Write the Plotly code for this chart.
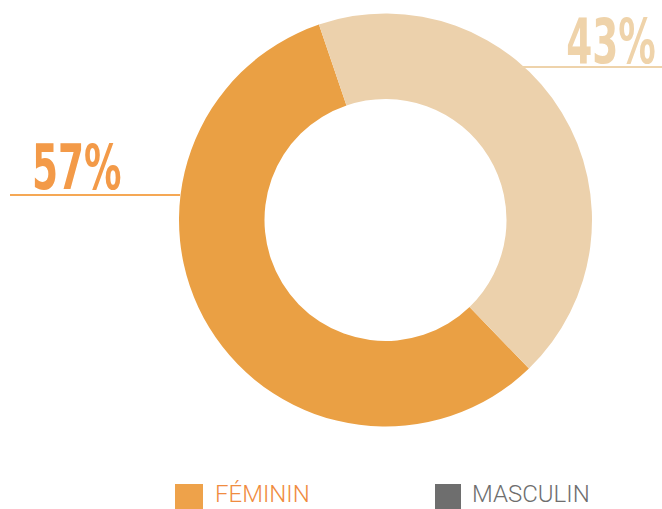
import plotly.graph_objects as go

categories = ["FÉMININ", "MASCULIN"]
values = [57, 43]
labels_txt = ["57%", "43%"]
slice_colors = ["#EAA044", "#ECD1AC"]
legend_colors = ["#EEA24A", "#6E6E6E"]
legend_text_colors = ["#F08C40", "#6E6E6E"]

W, H = 662, 509
cx, cy, r = 385.5, 220, 206.5

fig = go.Figure()
fig.add_trace(go.Pie(
    labels=categories, values=values, hole=0.586, sort=False,
    direction="counterclockwise", rotation=136,
    marker=dict(colors=slice_colors, line=dict(width=0)),
    textinfo="none", hoverinfo="label+percent", showlegend=False,
    domain=dict(x=[(cx - r) / W, (cx + r) / W], y=[(H - cy - r) / H, (H - cy + r) / H]),
))

# percentage labels with leader lines
label_pos = [(30, 167, "left"), (658, 41, "right")]
line_pos = [(10, 180, 195), (520, 662, 67)]
text_colors = ["#F39A48", "#EFD3AA"]
line_colors = ["#F5A855", "#EED3AB"]
for i in range(2):
    x, y, anc = label_pos[i]
    fig.add_annotation(x=x / W, y=1 - y / H, xref="paper", yref="paper",
                       text="<b>" + labels_txt[i] + "</b>", showarrow=False,
                       font=dict(family="DejaVu Sans Condensed, sans-serif",
                                 size=63, color=text_colors[i]),
                       xanchor=anc, yanchor="middle", name="pct" + str(i))
    x0, x1, yl = line_pos[i]
    fig.add_shape(type="line", xref="paper", yref="paper",
                  x0=x0 / W, x1=x1 / W, y0=1 - yl / H, y1=1 - yl / H,
                  line=dict(color=line_colors[i], width=2))

# custom legend
leg_sq = [(175, 203), (435, 461)]
leg_tx = [214, 471]
for i in range(2):
    a, b = leg_sq[i]
    fig.add_shape(type="rect", xref="paper", yref="paper",
                  x0=a / W, x1=b / W, y0=1 - 484 / H, y1=1 - 512 / H,
                  fillcolor=legend_colors[i], line=dict(width=0))
    fig.add_annotation(x=leg_tx[i] / W, y=0, xref="paper", yref="paper",
                       text=categories[i], showarrow=False, xanchor="left", yanchor="bottom",
                       borderpad=0,
                       font=dict(family="Roboto", weight=300, size=24, color=legend_text_colors[i]))

fig.update_layout(width=W, height=H, margin=dict(l=0, r=0, t=0, b=0),
                  paper_bgcolor="white", plot_bgcolor="white")

post = """
document.body.style.margin = '0';
var ts = document.querySelectorAll('text.annotation-text');
ts.forEach(function(t){
  if (t.textContent.indexOf('%') >= 0) {
    var left = t.textContent.indexOf('57') >= 0;
    t.style.transformBox = 'fill-box';
    t.style.transformOrigin = left ? 'left center' : 'right center';
    t.style.transform = 'scaleX(0.66)';
  }
});
"""
fig.write_html("out.html", post_script=post, config={"displayModeBar": False})
